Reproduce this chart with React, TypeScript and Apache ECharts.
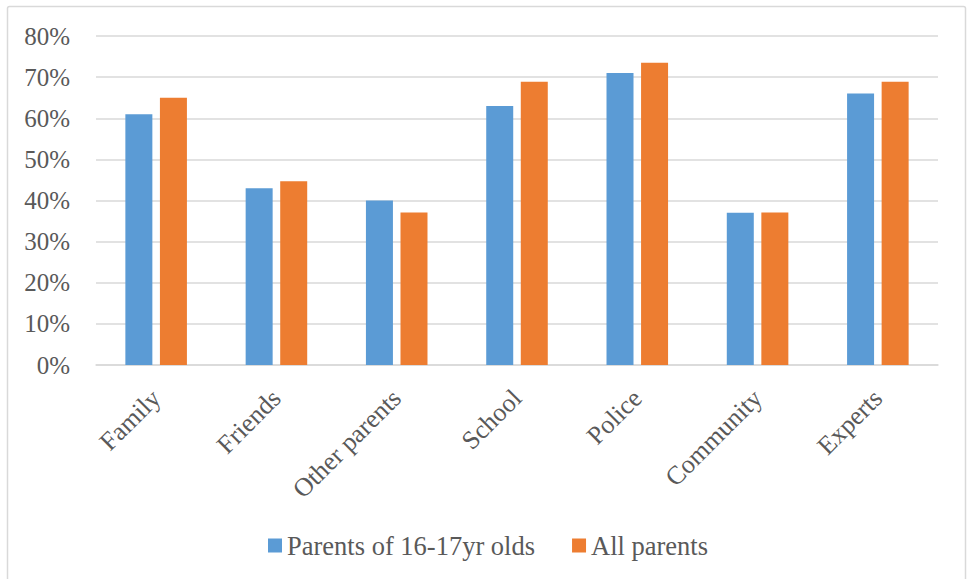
import React, { useEffect, useRef } from "react";
import * as echarts from "echarts";

const categories = ["Family", "Friends", "Other parents", "School", "Police", "Community", "Experts"];
const parents1617 = [61, 43, 40, 63, 71, 37, 66];
const allParents = [65, 44.7, 37.1, 68.9, 73.5, 37.1, 68.9];
const seriesNames = ["Parents of 16-17yr olds", "All parents"];

export default function App() {
  const ref = useRef<HTMLDivElement>(null);
  useEffect(() => {
    if (!ref.current) return;
    const chart = echarts.init(ref.current, undefined, { renderer: "svg" });
    const font = "'Liberation Serif', 'Times New Roman', serif";
    chart.setOption({
      animation: false,
      backgroundColor: "#ffffff",
      textStyle: { fontFamily: font },
      graphic: [
        {
          type: "rect",
          shape: { x: 7.5, y: 6.5, width: 958, height: 575, r: 2 },
          style: { fill: "none", stroke: "#d9d9d9", lineWidth: 1.5 },
          silent: true,
        },
      ],
      grid: { left: 96, right: 29, top: 36, bottom: 214, containLabel: false },
      legend: {
        left: 263,
        top: 527,
        itemWidth: 14,
        itemHeight: 14,
        itemGap: 37,
        icon: "rect",
        data: seriesNames,
        textStyle: { fontFamily: font, fontSize: 26.5, color: "#595959" },
      },
      xAxis: {
        type: "category",
        data: categories,
        axisLine: { lineStyle: { color: "#d9d9d9", width: 1.5 } },
        axisTick: { show: false },
        axisLabel: {
          rotate: 45,
          interval: 0,
          margin: 29,
          fontFamily: font,
          fontSize: 26,
          color: "#595959",
        },
      },
      yAxis: {
        type: "value",
        min: 0,
        max: 80,
        interval: 10,
        axisLine: { show: false },
        axisTick: { show: false },
        splitLine: { lineStyle: { color: "#d9d9d9", width: 1.5 } },
        axisLabel: {
          formatter: "{value}%",
          margin: 26,
          fontFamily: font,
          fontSize: 25,
          color: "#595959",
        },
      },
      series: [
        {
          name: seriesNames[0],
          type: "bar",
          data: parents1617,
          barWidth: 27,
          barGap: "28%",
          itemStyle: { color: "#5B9BD5" },
        },
        {
          name: seriesNames[1],
          type: "bar",
          data: allParents,
          barWidth: 27,
          itemStyle: { color: "#ED7D31" },
        },
      ],
    });
    return () => chart.dispose();
  }, []);
  return (
    <div
      ref={ref}
      style={{ position: "absolute", left: 0, top: 0, width: 967, height: 579 }}
    />
  );
}
